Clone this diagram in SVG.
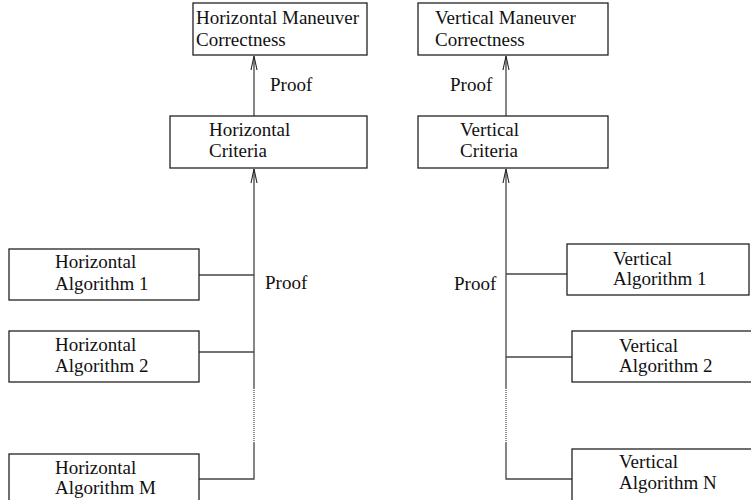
<svg xmlns="http://www.w3.org/2000/svg" width="751" height="500" viewBox="0 0 751 500">
<defs>
<style>
.box{fill:#fff;stroke:#222;stroke-width:1.3}
.ln{fill:none;stroke:#444;stroke-width:1.3}
.dot{fill:none;stroke:#444;stroke-width:1.2;stroke-dasharray:1 1}
text{font-family:"Liberation Serif","Times New Roman",serif;font-size:19px;fill:#111}
</style>
<marker id="arr" viewBox="-16 -5 17 10" refX="0" refY="0" markerWidth="17" markerHeight="10" markerUnits="userSpaceOnUse" orient="auto">
<polyline points="-14,-3 0,0 -14,3" fill="none" stroke="#222" stroke-width="1.1"/>
</marker>
</defs>
<rect width="751" height="500" fill="#fff"/>
<g id="connectors">
<line class="ln" x1="254" y1="117" x2="254" y2="56" marker-end="url(#arr)"/>
<line class="ln" x1="506" y1="117" x2="506" y2="56" marker-end="url(#arr)"/>
<line class="ln" x1="254" y1="388" x2="254" y2="169" marker-end="url(#arr)"/>
<line class="dot" x1="254" y1="388" x2="254" y2="443"/>
<polyline class="ln" points="254,443 254,479 199,479"/>
<line class="ln" x1="199" y1="275" x2="254" y2="275"/>
<line class="ln" x1="199" y1="352" x2="254" y2="352"/>
<line class="ln" x1="506" y1="388" x2="506" y2="169" marker-end="url(#arr)"/>
<line class="dot" x1="506" y1="388" x2="506" y2="443"/>
<polyline class="ln" points="506,443 506,479 572,479"/>
<line class="ln" x1="506" y1="274" x2="567" y2="274"/>
<line class="ln" x1="506" y1="357" x2="572" y2="357"/>
<text x="270" y="91">Proof</text>
<text x="450" y="91">Proof</text>
<text x="265" y="289">Proof</text>
<text x="454" y="290">Proof</text>
</g>
<g id="hmc"><rect class="box" x="193" y="3" width="174" height="52"/><text x="196" y="24">Horizontal Maneuver</text><text x="196" y="46">Correctness</text></g>
<g id="vmc"><rect class="box" x="418" y="3" width="190" height="52"/><text x="435" y="24">Vertical Maneuver</text><text x="435" y="46">Correctness</text></g>
<g id="hc"><rect class="box" x="170" y="116" width="197" height="52"/><text x="209" y="136">Horizontal</text><text x="209" y="157">Criteria</text></g>
<g id="vc"><rect class="box" x="418" y="116" width="190" height="52"/><text x="460" y="136">Vertical</text><text x="460" y="157">Criteria</text></g>
<g id="ha1"><rect class="box" x="9" y="249" width="190" height="51"/><text x="55" y="268">Horizontal</text><text x="55" y="290">Algorithm 1</text></g>
<g id="ha2"><rect class="box" x="9" y="331" width="190" height="51"/><text x="55" y="351">Horizontal</text><text x="55" y="372">Algorithm 2</text></g>
<g id="ham"><rect class="box" x="9" y="454" width="190" height="50"/><text x="55" y="474">Horizontal</text><text x="55" y="494">Algorithm M</text></g>
<g id="va1"><rect class="box" x="567" y="244" width="182" height="51"/><text x="613" y="265">Vertical</text><text x="613" y="285">Algorithm 1</text></g>
<g id="va2"><rect class="box" x="572" y="331" width="180" height="51"/><text x="619" y="352">Vertical</text><text x="619" y="372">Algorithm 2</text></g>
<g id="van"><rect class="box" x="572" y="449" width="180" height="55"/><text x="619" y="468">Vertical</text><text x="619" y="489">Algorithm N</text></g>
</svg>
